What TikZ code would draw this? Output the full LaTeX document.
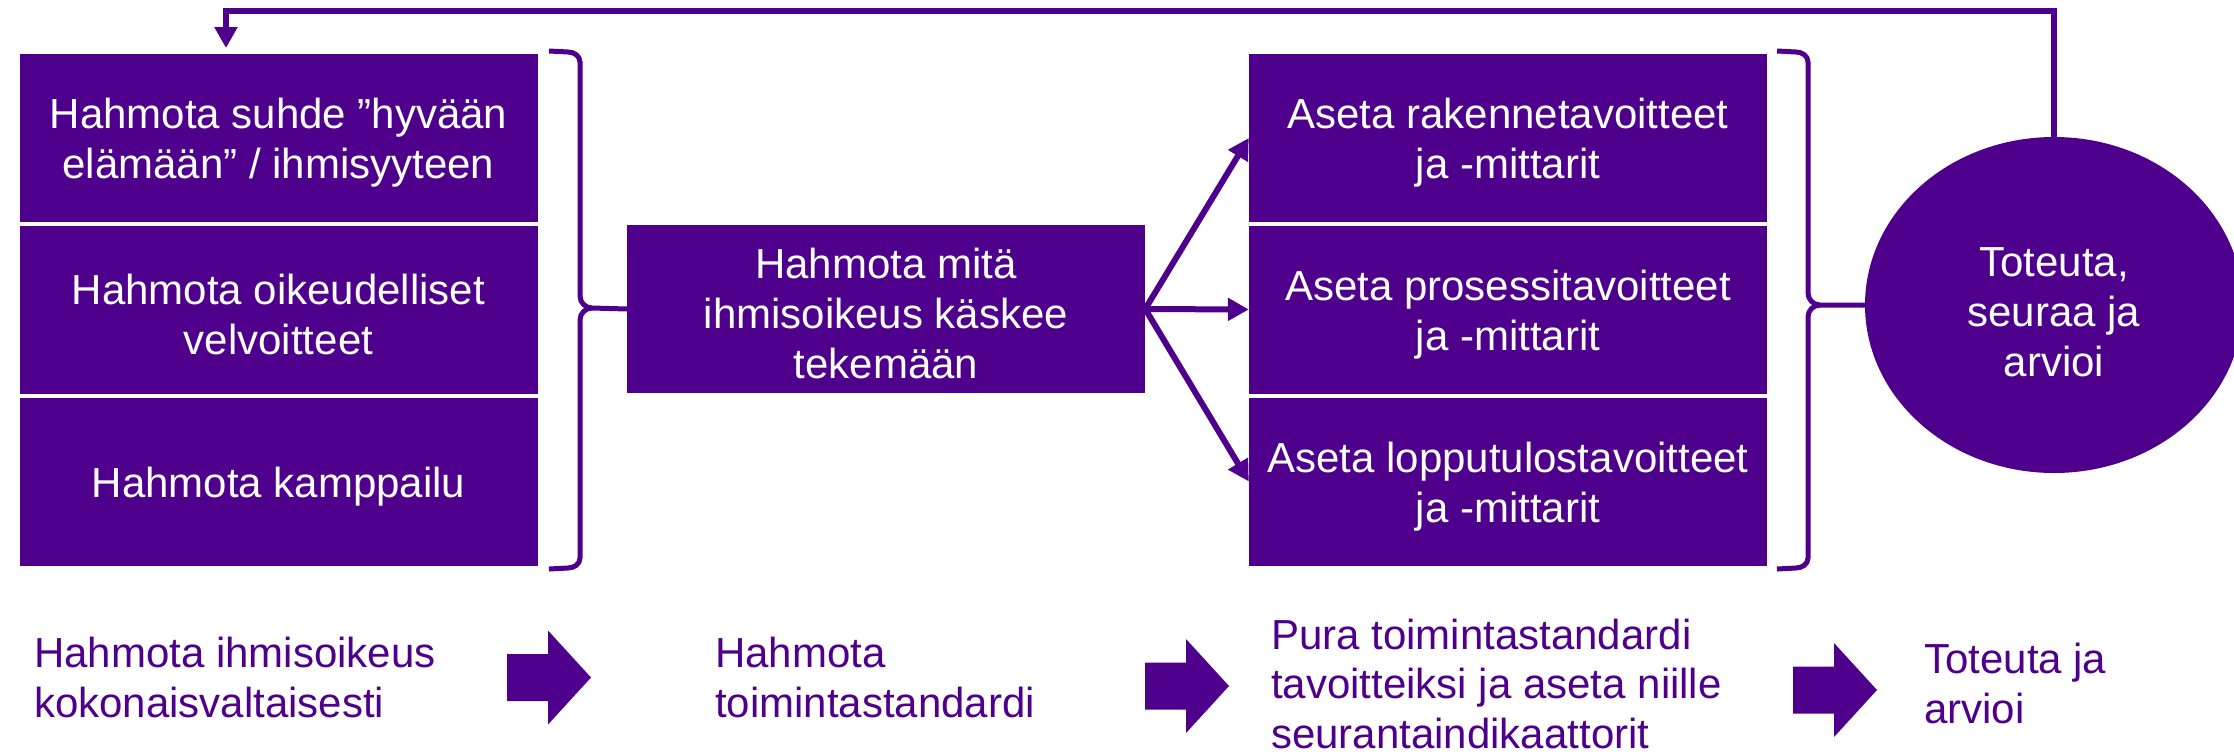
\documentclass[tikz,border=0pt]{standalone}
\usepackage{fontspec}
\setmainfont{Liberation Sans}
\usetikzlibrary{arrows.meta,shapes.geometric}
\definecolor{purp}{RGB}{78,0,140}
\newcommand{\topstrut}[1][40pt]{\rule{0pt}{#1}}
\tikzset{
  box/.style={fill=purp,text=white,inner sep=0pt,minimum width=518pt,minimum height=168pt,align=center,font=\fontsize{42}{50}\selectfont},
  conn/.style={draw=purp,line width=6pt},
  arr/.style={conn,-{Triangle[length=21pt,width=22pt]}},
  bracepath/.style={draw=purp,line width=5pt,line join=round},
  btext/.style={text=purp,inner sep=0pt,anchor=base west,align=left,font=\fontsize{42}{49.5}\selectfont},
  blockarr/.pic={\fill[purp] (0,-23.5) -- (41,-23.5) -- (41,-47) -- (84,0) -- (41,47) -- (41,23.5) -- (0,23.5) -- cycle;}
}
\begin{document}
\begin{tikzpicture}[x=1pt,y=-1pt]
\useasboundingbox (0,0) rectangle (2234,753);
% left stack
\node[box] (l1) at (278.5,138) {\topstrut Hahmota suhde ”hyvään\\elämään” / ihmisyyteen};
\node[box] (l2) at (278.5,309.5) {\topstrut Hahmota oikeudelliset\\velvoitteet};
\node[box] (l3) at (278.5,481.5) {\topstrut Hahmota kamppailu};
% middle
\node[box] (m) at (886,309) {\topstrut Hahmota mitä\\ihmisoikeus käskee\\tekemään};
% right stack
\node[box] (r1) at (1508,138) {\topstrut Aseta rakennetavoitteet\\ja -mittarit};
\node[box] (r2) at (1508,309.5) {\topstrut Aseta prosessitavoitteet\\ja -mittarit};
\node[box] (r3) at (1508,481.5) {\topstrut Aseta lopputulostavoitteet\\ja -mittarit};
% ellipse
\node[ellipse,fill=purp,text=white,inner sep=0pt,minimum width=378pt,minimum height=336pt,align=center,font=\fontsize{42}{50}\selectfont] (e) at (2054,305) {\topstrut[44pt]Toteuta,\\seuraa ja\\arvioi};
% left brace
\draw[bracepath] (549,51) -- (568,52) to[out=0,in=90] (580,62) -- (580,296) to[out=-90,in=180] (592,308) -- (m.west);
\draw[bracepath] (592,308) to[out=180,in=90] (580,320) -- (580,558) to[out=-90,in=0] (568,568) -- (549,569);
% right brace
\draw[bracepath] (1777,51) -- (1796,52) to[out=0,in=90] (1808,62) -- (1808,293) to[out=-90,in=180] (1820,305) -- (e.west);
\draw[bracepath] (1820,305) to[out=180,in=90] (1808,317) -- (1808,558) to[out=-90,in=0] (1796,568) -- (1777,569);
% arrows from middle
\draw[arr] (m.east) -- (r1.west);
\draw[arr] (m.east) -- (r2.west);
\draw[arr] (m.east) -- (r3.west);
% feedback
\coordinate (fbtop) at (226,11);
\coordinate (fbend) at (226,54);
\draw[arr,shorten >=6pt] (e.north) -- (e.north |- fbtop) -- (fbtop) -- (fbend);
% bottom row
\node[btext] (t1) at (34,717) {Hahmota ihmisoikeus\\kokonaisvaltaisesti};
\node[btext] (t2) at (715,717) {Hahmota\\toimintastandardi};
\node[btext] (t3) at (1271,748) {Pura toimintastandardi\\tavoitteiksi ja aseta niille\\seurantaindikaattorit};
\node[btext] (t4) at (1924,723) {Toteuta ja\\arvioi};
\pic at (507,677.5) {blockarr};
\pic at (1145,686) {blockarr};
\pic at (1793,690) {blockarr};
\end{tikzpicture}
\end{document}
